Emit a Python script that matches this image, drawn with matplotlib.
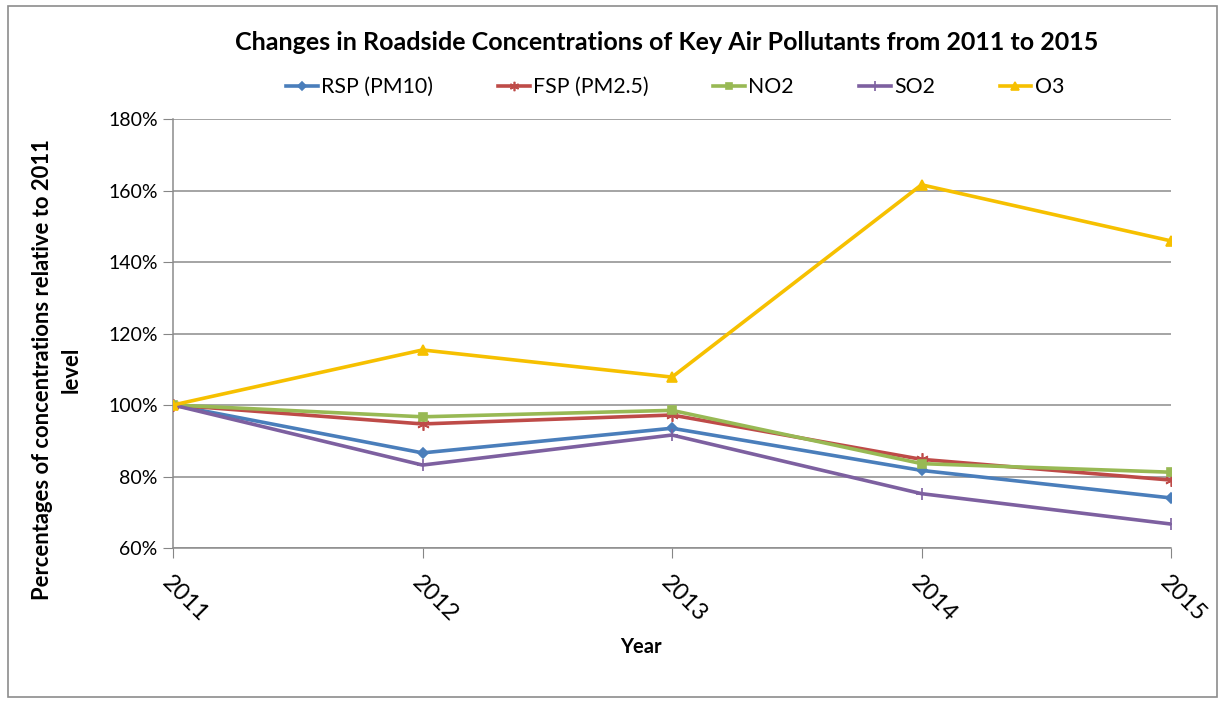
import matplotlib
matplotlib.use("Agg")
import matplotlib.pyplot as plt
from matplotlib.patches import Rectangle
from matplotlib.ticker import FuncFormatter, MultipleLocator

years = ["2011", "2012", "2013", "2014", "2015"]
rsp = [100.0, 86.6, 93.5, 81.7, 74.0]
fsp = [100.0, 94.7, 97.2, 84.8, 79.0]
no2 = [100.0, 96.7, 98.5, 83.6, 81.2]
so2 = [100.0, 83.2, 91.6, 75.2, 66.7]
o3 = [100.0, 115.4, 107.8, 161.6, 145.9]

series = [
    ("RSP (PM10)", rsp, "#4A7EBB", "D", 5),
    ("FSP (PM2.5)", fsp, "#BE4B48", (6, 2, 0), 9),
    ("NO2", no2, "#98B954", "s", 6),
    ("SO2", so2, "#7D60A0", "+", 9),
    ("O3", o3, "#F6C000", "^", 7),
]

plt.rcParams["font.family"] = ["Lato", "DejaVu Sans"]

fig = plt.figure(figsize=(12.21, 7.01), dpi=100)
W, H = 1221, 701
ax = fig.add_axes([173 / W, 1 - 548 / H, (1171 - 173) / W, (548 - 119) / H])

x = list(range(len(years)))
handles = []
for name, vals, color, marker, ms in series:
    (h,) = ax.plot(x, vals, color=color, lw=2.6, marker=marker, ms=ms,
                   mec=color, mfc=color, mew=1.2, label=name, zorder=3)
    handles.append(h)

ax.set_xlim(0, len(years) - 1)
ax.set_ylim(60, 180)
ax.yaxis.set_major_locator(MultipleLocator(20))
ax.yaxis.set_major_formatter(FuncFormatter(lambda v, p: f"{v:.0f}%"))
ax.set_xticks(x)
ax.set_xticklabels(years, rotation=-45, ha="left", va="top",
                   rotation_mode="anchor", fontsize=17)
ax.tick_params(axis="x", length=7, color="#868686", pad=10)
ax.tick_params(axis="y", length=7, color="#868686", labelsize=14, pad=4)

ax.grid(axis="y", color="#8C8C8C", lw=1.1, zorder=0)
ax.set_axisbelow(True)
for s in ["top", "right"]:
    ax.spines[s].set_visible(False)
for s in ["left", "bottom"]:
    ax.spines[s].set_color("#8C8C8C")
    ax.spines[s].set_linewidth(1.1)

fig.text(641 / W, 1 - 647 / H, "Year", ha="center", va="center",
         fontsize=14.5, fontweight="bold")
fig.text(57 / W, 1 - 370 / H,
         "Percentages of concentrations relative to 2011\nlevel",
         rotation=90, ha="center", va="center", multialignment="center",
         fontsize=15.8, fontweight="bold", linespacing=1.45)

fig.text(667 / W, 1 - 42 / H,
         "Changes in Roadside Concentrations of Key Air Pollutants from 2011 to 2015",
         ha="center", va="center", fontsize=18, fontweight="bold")

fig.legend(handles=handles, loc="center", bbox_to_anchor=(675 / W, 1 - 87 / H),
           ncol=5, frameon=False, fontsize=15.3, columnspacing=3.05,
           handlelength=1.5, handletextpad=0.15, markerscale=0.75)

fig.patches.append(Rectangle((8 / W, 1 - 697 / H), (1217 - 8) / W, (697 - 6) / H,
                             transform=fig.transFigure, fill=False,
                             edgecolor="#8C8C8C", lw=1.2))

fig.savefig("out.png", dpi=100)
